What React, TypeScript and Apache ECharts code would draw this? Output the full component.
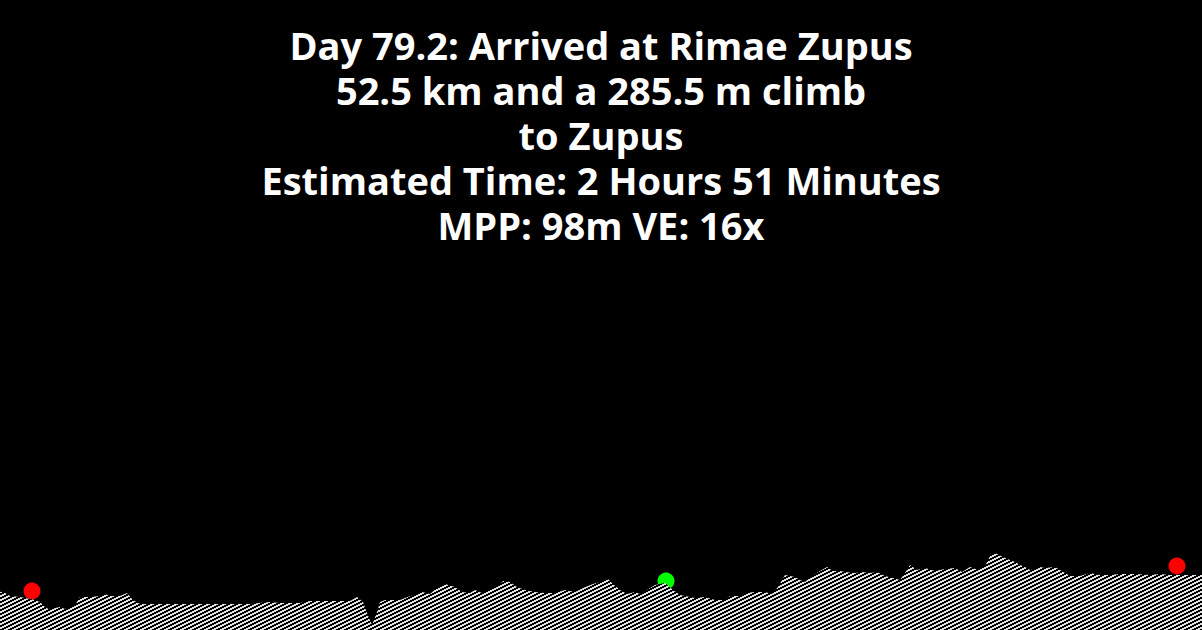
import React from "react";
import * as echarts from "echarts";

// profile distance (px along the strip) and elevation (m)
const dist = [
  0, 5, 10, 20, 25, 35, 40, 45, 50, 55, 60, 65, 70, 75, 80, 90, 100, 105, 110, 120,
  127, 133, 140, 150, 200, 250, 270, 280, 300, 310, 320, 340, 350, 357, 363, 367, 372, 377, 380, 385,
  400, 405, 422, 430, 437, 445, 455, 462, 470, 475, 482, 490, 497, 503, 510, 517, 525, 535, 545, 555,
  565, 575, 583, 593, 600, 607, 613, 620, 627, 635, 640, 647, 655, 665, 673, 680, 695, 705, 715, 725,
  730, 740, 745, 755, 765, 772, 778, 785, 795, 800, 805, 812, 820, 827, 833, 840, 845, 855, 862, 870,
  877, 885, 893, 900, 905, 910, 917, 925, 935, 945, 955, 962, 970, 978, 985, 990, 995, 1003, 1010, 1015,
  1020, 1025, 1030, 1037, 1040, 1045, 1055, 1060, 1065, 1070, 1080, 1090, 1100, 1110, 1120, 1135, 1150, 1160, 1170, 1202,
];
const elev = [
  230, 222, 204, 198, 192, 180, 168, 138, 120, 132, 138, 126, 138, 150, 198, 198, 204, 216, 204, 204,
  222, 180, 156, 156, 156, 156, 168, 162, 162, 174, 174, 174, 174, 198, 168, 102, 30, 108, 168, 180,
  180, 192, 228, 216, 252, 276, 258, 228, 222, 240, 222, 240, 258, 294, 288, 258, 240, 228, 222, 222,
  240, 228, 252, 276, 288, 312, 276, 240, 216, 228, 216, 240, 270, 282, 240, 210, 192, 198, 180, 180,
  204, 204, 222, 228, 228, 216, 258, 330, 318, 300, 288, 324, 354, 378, 354, 354, 348, 342, 348, 342,
  348, 324, 312, 300, 342, 390, 360, 372, 354, 366, 372, 348, 378, 360, 384, 444, 462, 438, 420, 408,
  390, 378, 360, 366, 378, 372, 378, 360, 342, 324, 324, 342, 330, 330, 336, 336, 330, 336, 330, 330,
];

const startPoint = [32, 234];
const currentPoint = [666, 294];
const endPoint = [1177, 384];

const titleLines = [
  "Day 79.2: Arrived at Rimae Zupus",
  "52.5 km and a 285.5 m climb",
  "to Zupus",
  "Estimated Time: 2 Hours 51 Minutes",
  "MPP: 98m VE: 16x",
];

function hatchTile() {
  const cv = document.createElement("canvas");
  cv.width = 8;
  cv.height = 4;
  const ctx = cv.getContext("2d")!;
  ctx.fillStyle = "#000";
  ctx.fillRect(0, 0, 8, 4);
  ctx.fillStyle = "#e0e0e0";
  for (let x = 0; x < 8; x++) {
    const y = 3 - Math.floor(x / 2);
    ctx.fillRect(x, y, 1, 1);
    ctx.fillRect(x, (y + 1) % 4, 1, 1);
  }
  return cv;
}

export default function App() {
  const ref = React.useRef<HTMLDivElement>(null);

  React.useEffect(() => {
    document.body.style.margin = "0";
    document.body.style.background = "#000";
    if (!ref.current) return;
    const c = echarts.init(ref.current, undefined, { renderer: "svg" });
    c.setOption({
      animation: false,
      backgroundColor: "#000",
      title: {
        text: titleLines.join("\n"),
        left: "center",
        top: 22,
        padding: 0,
        textStyle: {
          color: "#fff",
          fontSize: 38,
          fontWeight: "bold",
          fontFamily: "Open Sans",
          lineHeight: 45,
        },
      },
      grid: { left: 0, right: 0, top: 0, bottom: 0 },
      xAxis: { type: "value", min: 0, max: 1202, show: false },
      yAxis: { type: "value", min: 0, max: 3780, show: false },
      series: [
        {
          type: "line",
          data: dist.map((d, i) => [d, elev[i]]),
          showSymbol: false,
          lineStyle: { width: 0 },
          areaStyle: {
            opacity: 1,
            color: { image: hatchTile(), repeat: "repeat", imageWidth: 8, imageHeight: 4 },
          },
          silent: true,
        },
        {
          type: "scatter",
          symbolSize: 17,
          itemStyle: { opacity: 1 },
          data: [
            { value: startPoint, itemStyle: { color: "#ff0000" } },
            { value: currentPoint, itemStyle: { color: "#00ff00" } },
            { value: endPoint, itemStyle: { color: "#ff0000" } },
          ],
          silent: true,
        },
      ],
    });
    return () => c.dispose();
  }, []);

  return <div ref={ref} style={{ width: 1202, height: 630 }} />;
}
